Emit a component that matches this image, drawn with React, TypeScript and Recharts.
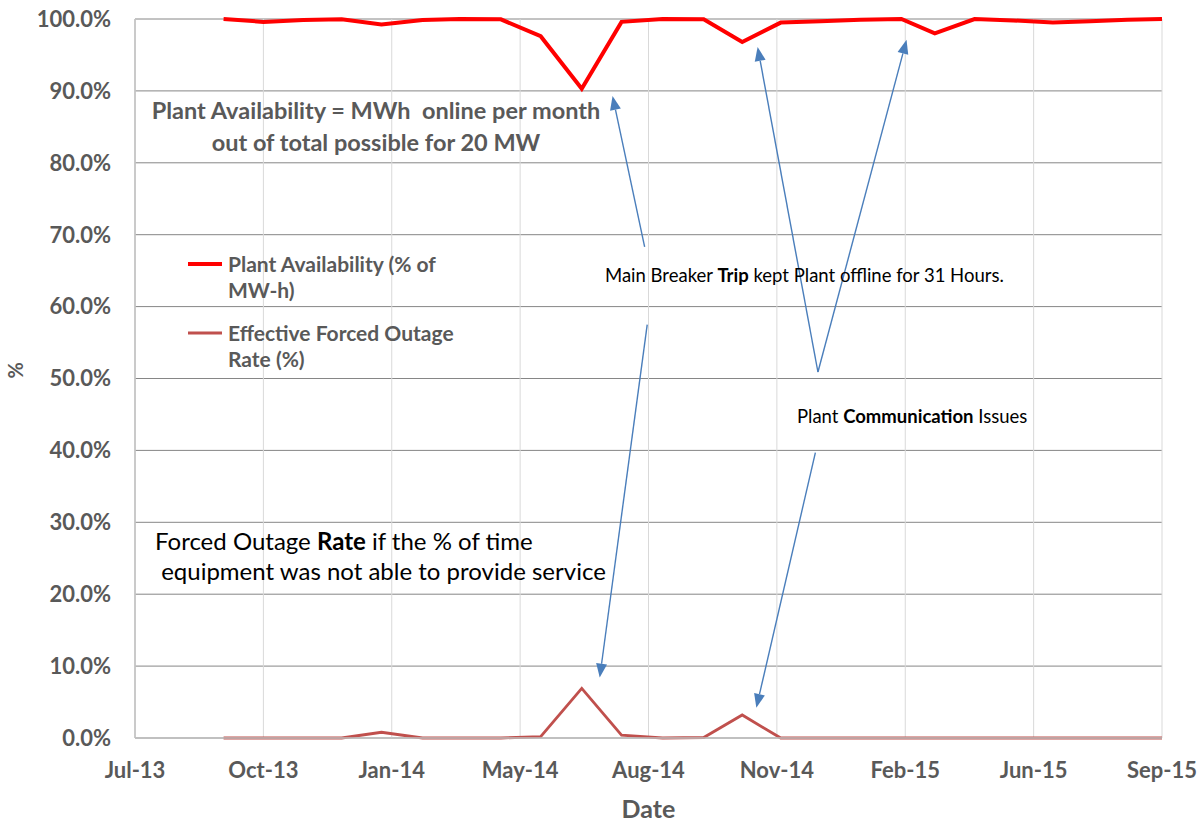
import React from 'react';
import { LineChart, Line, XAxis, YAxis, CartesianGrid, ReferenceLine } from 'recharts';

document.body.style.margin = '0';

const FONT = 'Lato, "DejaVu Sans", sans-serif';
const GREY = '#595959';
const BLUE = '#4A7EBB';

// one reading per month, dated as they sit on the date axis
const readingDates = [
  '2013-09-15', '2013-10-16', '2013-11-16', '2013-12-16', '2014-01-16', '2014-02-17', '2014-03-18',
  '2014-04-19', '2014-05-20', '2014-06-21', '2014-07-22', '2014-08-23', '2014-09-24', '2014-10-24',
  '2014-11-23', '2014-12-24', '2015-01-24', '2015-02-25', '2015-03-23', '2015-04-23', '2015-05-23',
  '2015-06-23', '2015-07-22', '2015-08-20', '2015-09-16',
];
const availability = [
  1.0, 0.996, 0.9985, 0.9995, 0.9925, 0.9985, 1.0,
  0.9995, 0.976, 0.903, 0.996, 1.0, 0.9995, 0.968,
  0.995, 0.997, 0.999, 1.0, 0.98, 1.0, 0.998,
  0.995, 0.997, 0.999, 1.0,
];
const forcedOutage = [
  0, 0, 0, 0, 0.008, 0, 0,
  0, 0.0018, 0.069, 0.0041, 0, 0.0007, 0.032,
  0, 0, 0, 0, 0, 0, 0,
  0, 0, 0, 0,
];

const tickDates = ['2013-07-08', '2013-10-16', '2014-01-24', '2014-05-04', '2014-08-12', '2014-11-20', '2015-02-28', '2015-06-08', '2015-09-16'];
const tickLabels = ['Jul-13', 'Oct-13', 'Jan-14', 'May-14', 'Aug-14', 'Nov-14', 'Feb-15', 'Jun-15', 'Sep-15'];
const yTicks = [0, 0.1, 0.2, 0.3, 0.4, 0.5, 0.6, 0.7, 0.8, 0.9, 1.0];
const seriesNames = ['Plant Availability (% of MW-h)', 'Effective Forced Outage Rate (%)'];
const seriesColors = ['#FF0000', '#C0504D'];

// annotation arrows: tail -> head, in (date, value)
const arrows: { from: [string, number]; to: [string, number] }[] = [
  { from: ['2014-08-09', 0.683], to: ['2014-07-15', 0.893] },
  { from: ['2014-08-11', 0.575], to: ['2014-07-05', 0.084] },
  { from: ['2014-12-22', 0.509], to: ['2014-11-05', 0.961] },
  { from: ['2014-12-22', 0.509], to: ['2015-03-01', 0.971] },
  { from: ['2014-12-20', 0.397], to: ['2014-11-04', 0.042] },
];

const toTime = (d: string) => Date.parse(d + 'T00:00:00Z');

const data = readingDates.map((d, i) => ({
  t: toTime(d),
  availability: availability[i],
  outage: forcedOutage[i],
}));

const xTicks = tickDates.map(toTime);

const ArrowShape = (props: any) => {
  const { x1, y1, x2, y2 } = props;
  const ang = Math.atan2(y2 - y1, x2 - x1);
  const len = 14;
  const half = 5.5;
  const bx = x2 - len * Math.cos(ang);
  const by = y2 - len * Math.sin(ang);
  const pts = `${x2},${y2} ${bx + half * Math.sin(ang)},${by - half * Math.cos(ang)} ${bx - half * Math.sin(ang)},${by + half * Math.cos(ang)}`;
  return (
    <g>
      <line x1={x1} y1={y1} x2={bx} y2={by} stroke={BLUE} strokeWidth={1.4} />
      <polygon points={pts} fill={BLUE} />
    </g>
  );
};

const abs = (left: number, top: number, extra: React.CSSProperties = {}): React.CSSProperties => ({
  position: 'absolute',
  left,
  top,
  fontFamily: FONT,
  whiteSpace: 'pre',
  ...extra,
});

export default function App() {
  return (
    <div style={{ position: 'relative', width: 1203, height: 822, background: '#fff' }}>
      <LineChart width={1203} height={822} data={data} margin={{ top: 19, right: 41, bottom: 0, left: 0 }}>
        <CartesianGrid vertical={false} stroke="#868686" />
        <CartesianGrid horizontal={false} stroke="#D9D9D9" />
        <XAxis
          dataKey="t"
          type="number"
          scale="time"
          domain={[xTicks[0], xTicks[xTicks.length - 1]]}
          ticks={xTicks}
          tickFormatter={(v: number) => tickLabels[xTicks.indexOf(v)] ?? ''}
          height={84}
          tickLine={false}
          tickSize={0}
          tickMargin={24}
          axisLine={{ stroke: '#BFBFBF', strokeWidth: 1.5 }}
          tick={{ fill: GREY, fontSize: 22, fontWeight: 700, fontFamily: FONT }}
          label={{ value: 'Date', position: 'insideBottom', offset: 4, fill: GREY, fontSize: 25, fontWeight: 700, fontFamily: FONT }}
        />
        <YAxis
          domain={[0, 1]}
          ticks={yTicks}
          width={135}
          tickLine={false}
          tickSize={0}
          tickMargin={24}
          axisLine={{ stroke: '#BFBFBF', strokeWidth: 1.5 }}
          tickFormatter={(v: number) => `${(v * 100).toFixed(1)}%`}
          tick={{ fill: GREY, fontSize: 22, fontWeight: 700, fontFamily: FONT }}
          label={{ value: '%', angle: -90, position: 'insideLeft', offset: 16, fill: GREY, fontSize: 20, fontWeight: 700, fontFamily: FONT }}
        />
        <Line
          dataKey="outage"
          stroke={seriesColors[1]}
          strokeWidth={2.8}
          dot={false}
          isAnimationActive={false}
        />
        <Line
          dataKey="availability"
          stroke={seriesColors[0]}
          strokeWidth={4}
          dot={false}
          isAnimationActive={false}
        />
        {arrows.map((a, i) => (
          <ReferenceLine
            key={i}
            segment={[
              { x: toTime(a.from[0]), y: a.from[1] },
              { x: toTime(a.to[0]), y: a.to[1] },
            ]}
            ifOverflow="visible"
            shape={ArrowShape}
          />
        ))}
      </LineChart>

      {/* legend, sitting inside the plot */}
      <div style={abs(188, 251, { width: 290, whiteSpace: 'normal' })}>
        {seriesNames.map((name, i) => (
          <div key={name} style={{ display: 'flex', alignItems: 'flex-start', marginBottom: i === 0 ? 17 : 0 }}>
            <svg width={40} height={26} style={{ flex: 'none' }}>
              <line x1={0} y1={13} x2={34} y2={13} stroke={seriesColors[i]} strokeWidth={i === 0 ? 4 : 2.8} />
            </svg>
            <div style={{ color: GREY, fontWeight: 700, fontSize: 21, lineHeight: '26px', width: 240 }}>{name}</div>
          </div>
        ))}
      </div>

      <div style={abs(116, 94, { width: 520, textAlign: 'center', color: GREY, fontWeight: 700, fontSize: 23.5, lineHeight: '32px' })}>
        {'Plant Availability = MWh  online per month\nout of total possible for 20 MW'}
      </div>
      <div style={abs(605, 264, { color: '#000', fontSize: 18.5, lineHeight: '22px' })}>
        Main Breaker <b>Trip</b> kept Plant offline for 31 Hours.
      </div>
      <div style={abs(797, 405, { color: '#000', fontSize: 18.5, lineHeight: '22px' })}>
        Plant <b>Communication</b> Issues
      </div>
      <div style={abs(155, 526, { color: '#000', fontSize: 24, lineHeight: '30px' })}>
        Forced Outage <b>Rate</b> if the % of time{'\n'} equipment was not able to provide service
      </div>
    </div>
  );
}
